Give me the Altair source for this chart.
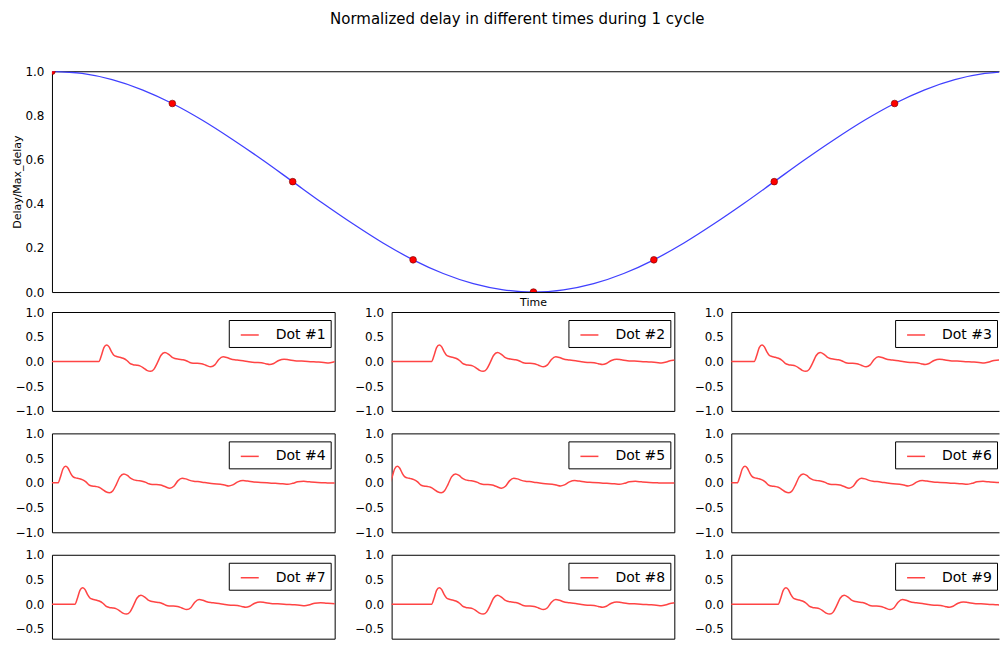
import altair as alt
import pandas as pd

TITLE = "Normalized delay in different times during 1 cycle"

# top panel: normalized delay over one cycle
CYCLE_T = [0.0, 0.03125, 0.0625, 0.09375, 0.125, 0.15625, 0.1875, 0.21875, 0.25,
           0.28125, 0.3125, 0.34375, 0.375, 0.40625, 0.4375, 0.46875, 0.5,
           0.53125, 0.5625, 0.59375, 0.625, 0.65625, 0.6875, 0.71875, 0.75,
           0.78125, 0.8125, 0.84375, 0.875, 0.90625, 0.9375, 0.96875, 1.0]
CYCLE_V = [1.0, 0.990, 0.962, 0.916, 0.854, 0.778, 0.691, 0.598, 0.5,
           0.402, 0.309, 0.222, 0.146, 0.084, 0.038, 0.010, 0.0,
           0.010, 0.038, 0.084, 0.146, 0.222, 0.309, 0.402, 0.5,
           0.598, 0.691, 0.778, 0.854, 0.916, 0.962, 0.990, 1.0]
DOT_T = [0.0, 0.125, 0.25, 0.375, 0.5, 0.625, 0.75, 0.875, 1.0]
DOT_V = [1.0, 0.854, 0.5, 0.146, 0.0, 0.146, 0.5, 0.854, 1.0]

# small panels: waveform (time after onset, amplitude), and onset of each dot
WAVE_T = [-60, 0, 2.5, 5, 7.7, 10, 12.5, 15, 17.7, 21, 24.3, 28, 31, 34.3, 38, 41,
          44.5, 48, 51.7, 55, 58.5, 62, 66, 69.5, 73, 76, 80, 84.3, 88, 91, 94.3,
          98.5, 102.7, 107, 112, 116, 120, 124.3, 128, 132, 136, 140, 144.3, 150,
          156, 162.7, 167, 171, 175, 180, 185.3, 190, 196, 203, 209.3, 215, 220,
          225, 230, 235, 240, 246, 252, 260, 268, 276, 290]
WAVE_V = [0.0, 0.0, 0.12, 0.28, 0.335, 0.30, 0.20, 0.125, 0.10, 0.085, 0.065, 0.02,
          -0.04, -0.065, -0.075, -0.09, -0.13, -0.18, -0.20, -0.16, -0.03, 0.12,
          0.18, 0.15, 0.09, 0.06, 0.045, 0.034, 0.01, -0.02, -0.034, -0.036,
          -0.045, -0.075, -0.108, -0.07, 0.04, 0.094, 0.08, 0.05, 0.034, 0.025,
          0.013, -0.005, -0.02, -0.027, -0.045, -0.062, -0.04, 0.02, 0.047, 0.035,
          0.015, 0.008, 0.0, -0.008, -0.013, -0.02, -0.03, -0.01, 0.02, 0.03, 0.02,
          0.008, 0.0, -0.005, 0.0]
DOT_LABELS = ["Dot #1", "Dot #2", "Dot #3", "Dot #4", "Dot #5",
              "Dot #6", "Dot #7", "Dot #8", "Dot #9"]
DOT_ONSET = [47, 40, 23, 6, -2, 6, 23, 40, 47]
Y_TICKS_TOP = [0.0, 0.2, 0.4, 0.6, 0.8, 1.0]
Y_TICKS_SMALL = [-1.0, -0.5, 0.0, 0.5, 1.0]

FONT = "DejaVu Sans"
PANEL_W = 283
PANEL_H = 99
LAST_W = 268          # third column is cut by the page edge
LAST_H = 84           # third row is cut by the page edge
TOP_W = 948           # top panel is cut by the page edge
FULL_TOP_W = 964

df_curve = pd.DataFrame({"t": CYCLE_T, "v": CYCLE_V})
df_dots = pd.DataFrame({"t": DOT_T, "v": DOT_V})
df_wave = pd.DataFrame({"offset": WAVE_T, "v": WAVE_V})

BORDER = dict(domain=True, domainColor="black", domainWidth=1)
NO_VIEW_STROKE = alt.ViewBackground(stroke="transparent")

top_x_scale = alt.Scale(domain=[0, TOP_W / FULL_TOP_W], nice=False, zero=False)
top_y_scale = alt.Scale(domain=[0, 1], nice=False)
top_y_axis = alt.Axis(values=Y_TICKS_TOP, format=".1f", title="Delay/Max_delay",
                      titleFontSize=11, titleFont=FONT, titleFontWeight="normal",
                      titleColor="black", titlePadding=2, minExtent=27.4, **BORDER)
top_line = alt.Chart(df_curve).mark_line(
    color="#4040ff", strokeWidth=1.3, clip=True, interpolate="monotone"
).encode(
    x=alt.X("t:Q", scale=top_x_scale,
            axis=alt.Axis(title="Time", labels=False, ticks=False, grid=False,
                          titleFontSize=11, titleFont=FONT,
                          titleFontWeight="normal", titleColor="black",
                          titlePadding=4, titleX=FULL_TOP_W / 2 - 0.5, **BORDER)),
    y=alt.Y("v:Q", scale=top_y_scale, axis=top_y_axis),
)
top_pts = alt.Chart(df_dots).mark_circle(
    color="red", stroke="#700000", strokeWidth=0.6, size=45, opacity=1, clip=True
).encode(
    x=alt.X("t:Q", scale=top_x_scale,
            axis=alt.Axis(orient="top", title=None, labels=False, ticks=False,
                          grid=False, **BORDER)),
    y=alt.Y("v:Q", scale=top_y_scale, axis=top_y_axis),
)
top = alt.layer(top_line, top_pts).resolve_axis(x="independent").properties(
    width=TOP_W, height=221, view=NO_VIEW_STROKE
)


def panel(i):
    col = i % 3
    row = i // 3
    cut = col == 2
    w = LAST_W if cut else PANEL_W
    h = LAST_H if row == 2 else PANEL_H
    y_lo = 1 - 2 * h / PANEL_H
    x_scale = alt.Scale(domain=[0, w], nice=False, zero=False)
    y_scale = alt.Scale(domain=[y_lo, 1], nice=False)
    y_axis = alt.Axis(values=[v for v in Y_TICKS_SMALL if v >= y_lo - 1e-9],
                      format=".1f", title=None, minExtent=40.4,
                      **(BORDER if cut else {}))
    base = alt.Chart(df_wave).transform_calculate(
        t=f"datum.offset + {DOT_ONSET[i]}",
        dot=f"'{DOT_LABELS[i]}'",
    )
    x_axis = (alt.Axis(title=None, labels=False, ticks=False, grid=False, **BORDER)
              if cut else None)
    line = base.mark_line(clip=True, strokeWidth=1.5, interpolate="monotone").encode(
        x=alt.X("t:Q", scale=x_scale, axis=x_axis),
        y=alt.Y("v:Q", scale=y_scale, axis=y_axis),
        color=alt.Color("dot:N", scale=alt.Scale(range=["#ff4444"]),
                        legend=alt.Legend(title=None, orient="none",
                                          legendX=(w - 104) if cut else 177,
                                          legendY=8,
                                          strokeColor="black", fillColor="white",
                                          padding=5, symbolType="stroke",
                                          symbolStrokeWidth=1.5, symbolSize=324,
                                          symbolOffset=6, labelOffset=16,
                                          labelFontSize=14, labelFont=FONT,
                                          labelColor="black", cornerRadius=0)),
    )
    if not cut:
        return line.properties(width=w, height=h)
    top_edge = base.mark_line(clip=True, strokeOpacity=0).encode(
        x=alt.X("t:Q", scale=x_scale,
                axis=alt.Axis(orient="top", title=None, labels=False, ticks=False,
                              grid=False, **BORDER)),
        y=alt.Y("v:Q", scale=y_scale, axis=y_axis),
    )
    return alt.layer(line, top_edge).resolve_axis(x="independent").properties(
        width=w, height=h, view=NO_VIEW_STROKE
    )


rows = []
for r in range(3):
    rows.append(
        alt.hconcat(*[panel(3 * r + c) for c in range(3)], spacing=57, bounds="flush")
        .resolve_scale(color="independent")
    )

grid = alt.vconcat(*rows, spacing=8.5).resolve_scale(color="independent")

chart = alt.vconcat(top, grid, spacing=-3).resolve_scale(
    color="independent"
).properties(
    title=alt.TitleParams(TITLE, fontSize=15, font=FONT, fontWeight="normal",
                          color="black", anchor="middle", offset=38, dx=12),
    padding={"left": 3, "top": 3, "right": 0, "bottom": 0},
).configure_view(
    stroke="black", strokeWidth=1
).configure_axis(
    labelFont=FONT, labelFontSize=12, labelColor="black", domain=False,
    ticks=False, grid=False, labelPadding=8, labelFlush=False
)

chart.save("out.html", embed_options={"renderer": "svg", "actions": False})
